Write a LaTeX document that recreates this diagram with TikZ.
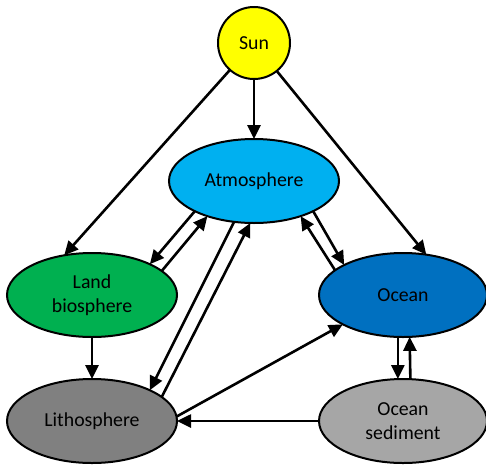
\documentclass[tikz,border=0pt]{standalone}
\usepackage{fontspec}
\setmainfont{Carlito}
\usetikzlibrary{shapes.geometric,arrows.meta}
\definecolor{sunc}{HTML}{FFFF00}
\definecolor{atmc}{HTML}{00B0F0}
\definecolor{landc}{HTML}{00B050}
\definecolor{oceanc}{HTML}{0070C0}
\definecolor{lithoc}{HTML}{808080}
\definecolor{sedc}{HTML}{A6A6A6}
\tikzset{
  box/.style={ellipse, draw=black, line width=2pt, inner sep=0pt, outer sep=0pt,
    minimum width=170pt, minimum height=84pt, align=center,
    font=\fontsize{19.8}{24}\selectfont},
  flow/.style={line width=2.6pt, -{Triangle[length=14pt,width=13pt]}}
}
\begin{document}
\begin{tikzpicture}[x=1pt,y=-1pt]
\useasboundingbox (0,0) rectangle (486,466);
\node[box, circle, fill=sunc, minimum width=72pt, minimum height=72pt] (sun) at (254,43) {Sun};
\node[box, fill=atmc] (atm) at (254,181) {Atmosphere};
\node[box, fill=landc] (land) at (92,295) {Land\\biosphere};
\node[box, fill=oceanc, minimum width=168pt] (ocean) at (403,295) {Ocean};
\node[box, fill=lithoc] (litho) at (92,421) {Lithosphere};
\node[box, fill=sedc, minimum width=168pt] (sed) at (403,421) {Ocean\\sediment};

\draw[flow] (sun) -- (atm.north);
\draw[flow] (sun) -- (land.125);
\draw[flow] (sun) -- (ocean.60);

\draw[flow] (atm.207) -- (land.28);
\draw[flow] (land.19) -- (atm.217);

\draw[flow] (atm.244.6) -- (litho.28);
\draw[flow] (litho.19) -- (atm.265.3);

\draw[flow] (ocean.160.6) -- (atm.323.4);
\draw[flow] (atm.333) -- (ocean.153);

\draw[flow] (land.south) -- (litho.north);
\draw[flow] (litho.3) -- (ocean.206.6);
\draw[flow] (sed.west) -- (litho.east);

\draw[flow] (ocean.263) -- (sed.97);
\draw[flow] (sed.80.5) -- (ocean.279.5);
\end{tikzpicture}
\end{document}
